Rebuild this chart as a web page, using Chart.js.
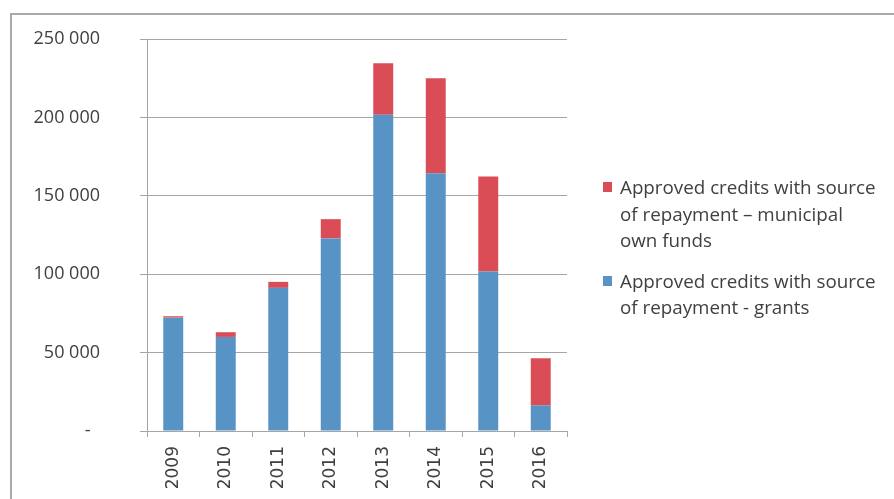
<!DOCTYPE html>
<html>
<head>
<meta charset="utf-8">
<script src="https://cdn.jsdelivr.net/npm/chart.js@4.4.1/dist/chart.umd.min.js"></script>
<style>
  html, body { margin: 0; padding: 0; background: #fff; overflow: hidden; }
  #wrap { position: relative; width: 894px; height: 499px; }
  #frame { position: absolute; left: 10px; top: 13px; width: 1000px; height: 1000px; border: 2px solid #a9a9a9; }
  #chart { position: absolute; left: 0; top: 0; }
  #legend { position: absolute; left: 603px; top: 174px; font-family: "Open Sans", sans-serif; font-size: 18.8px; color: #404040; }
  .item { position: relative; padding-left: 17px; line-height: 26.5px; margin-bottom: 14px; }
  .swatch { position: absolute; left: 0; top: 8px; width: 9px; height: 10px; }
</style>
</head>
<body>
<div id="wrap">
  <div id="frame"></div>
  <canvas id="chart" width="894" height="499"></canvas>
  <div id="legend"></div>
</div>
<script>
const years = ['2009', '2010', '2011', '2012', '2013', '2014', '2015', '2016'];
const grants = [72300, 60000, 91300, 122800, 201700, 164400, 101700, 16300];
const ownFunds = [900, 3000, 3800, 12300, 32800, 60600, 60600, 30100];
const grantsLines = ['Approved credits with source', 'of repayment - grants'];
const ownLines = ['Approved credits with source', 'of repayment \u2013 municipal', 'own funds'];
const yTicks = [0, 50000, 100000, 150000, 200000, 250000];

const blue = '#5893c6';
const red = '#db4d56';
const gridColor = '#a6a6a6';

const ctx = document.getElementById('chart').getContext('2d');

const chart = new Chart(ctx, {
  type: 'bar',
  data: {
    labels: years,
    datasets: [
      {
        label: grantsLines.join(' '),
        lines: grantsLines,
        data: grants,
        backgroundColor: blue,
        barPercentage: 0.38,
        categoryPercentage: 1
      },
      {
        label: ownLines.join(' '),
        lines: ownLines,
        data: ownFunds,
        backgroundColor: red,
        barPercentage: 0.38,
        categoryPercentage: 1
      }
    ]
  },
  options: {
    responsive: false,
    animation: false,
    layout: { padding: { left: 0, top: 39, right: 327, bottom: 0 } },
    scales: {
      x: {
        stacked: true,
        afterFit: scale => { scale.height = 68; },
        grid: { drawOnChartArea: false, offset: true, tickLength: 6, color: gridColor },
        border: { color: gridColor },
        ticks: {
          minRotation: 90,
          maxRotation: 90,
          padding: 9,
          color: '#404040',
          font: { family: 'DejaVu Sans', size: 17 }
        }
      },
      y: {
        stacked: true,
        min: 0,
        max: 250000,
        // the big label gap should not push the plot down
        afterFit: scale => {
          scale.width = 147;
          scale.paddingTop = 11;
          scale.paddingBottom = 11;
        },
        afterBuildTicks: scale => { scale.ticks = yTicks.map(v => ({ value: v })); },
        grid: { color: gridColor, tickLength: 7 },
        border: { color: gridColor },
        ticks: {
          padding: 40,
          color: '#404040',
          font: { family: 'Open Sans', size: 18 },
          callback: v => v === 0 ? '-\u00a0\u00a0' : String(v).replace(/\B(?=(\d{3})+(?!\d))/g, ' ')
        }
      }
    },
    plugins: {
      legend: { display: false },
      tooltip: { enabled: false }
    }
  }
});

// legend drawn as html, top entry is the top of the stack
const legend = document.getElementById('legend');
chart.data.datasets.slice().reverse().forEach(ds => {
  const item = document.createElement('div');
  item.className = 'item';
  const sw = document.createElement('span');
  sw.className = 'swatch';
  sw.style.background = ds.backgroundColor;
  item.appendChild(sw);
  ds.lines.forEach((line, i) => {
    if (i) item.appendChild(document.createElement('br'));
    item.appendChild(document.createTextNode(line));
  });
  legend.appendChild(item);
});
</script>
</body>
</html>
